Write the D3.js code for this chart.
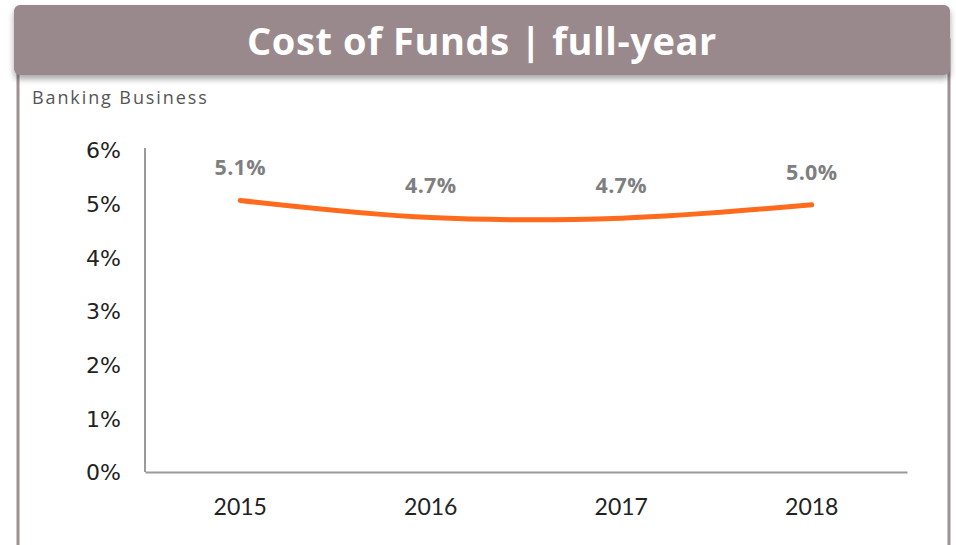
<!DOCTYPE html>
<html>
<head>
<meta charset="utf-8">
<script src="https://cdn.jsdelivr.net/npm/d3@7"></script>
<style>
  body { margin: 0; background: #fff; }
  svg { display: block; font-family: "Open Sans", Lato, sans-serif; }
</style>
</head>
<body>
<svg id="chart" width="956" height="545"></svg>
<script>
// chart data
const years = ['2015', '2016', '2017', '2018']
const costOfFunds = [5.06, 4.74, 4.73, 4.98]
const valueLabels = ['5.1%', '4.7%', '4.7%', '5.0%']
const yTicks = [0, 1, 2, 3, 4, 5, 6]

const svg = d3.select('#chart')

// shadow for the header
const defs = svg.append('defs')
const filter = defs.append('filter').attr('id', 'shadow').attr('x', '-5%').attr('y', '-20%').attr('width', '110%').attr('height', '160%')
filter.append('feDropShadow').attr('dx', 0).attr('dy', 4).attr('stdDeviation', 3).attr('flood-color', '#000').attr('flood-opacity', 0.35)

// content frame
svg.append('rect')
    .attr('x', 18).attr('y', 40).attr('width', 931).attr('height', 520)
    .attr('fill', '#fff').attr('stroke', '#9d9194').attr('stroke-width', 3)

// header
svg.append('rect')
    .attr('x', 14).attr('y', 5).attr('width', 936).attr('height', 70).attr('rx', 6)
    .attr('fill', '#9a898c')
    .attr('filter', 'url(#shadow)')

svg.append('text')
    .attr('x', 482).attr('y', 55)
    .attr('text-anchor', 'middle')
    .attr('fill', '#fff')
    .attr('font-size', 38)
    .attr('font-weight', 'bold')
    .attr('letter-spacing', 0.6)
    .text('Cost of Funds | full-year')

svg.append('text')
    .attr('x', 32).attr('y', 104)
    .attr('fill', '#555')
    .attr('font-size', 18)
    .attr('letter-spacing', 1.9)
    .text('Banking Business')

// scales
const x = d3.scaleBand().domain(years).range([145, 907])
const y = d3.scaleLinear().domain([0, 6]).range([472, 150])

// y axis
const yAxis = svg.append('g')
    .attr('transform', 'translate(145,0)')
    .call(d3.axisLeft(y).tickValues(yTicks).tickFormat(d => d + '%').tickSize(0).tickPadding(24))
yAxis.select('.domain').attr('stroke', '#9a9a9a').attr('stroke-width', 2).attr('d', `M0,${y(6) - 2}V${y(0)}`)
yAxis.selectAll('text').attr('font-size', 22).attr('fill', '#222').attr('font-family', '"DejaVu Sans", sans-serif')
    .attr('dy', '0.36em')

// x axis
const xAxis = svg.append('g')
    .attr('transform', `translate(0,${y(0)})`)
    .call(d3.axisBottom(x).tickSize(0).tickPadding(27))
xAxis.select('.domain').attr('stroke', '#9a9a9a').attr('stroke-width', 2)
xAxis.selectAll('text').attr('font-size', 23).attr('fill', '#222').attr('font-family', 'Lato, sans-serif')

// line
const pts = years.map((yr, i) => ({ yr, v: costOfFunds[i], label: valueLabels[i] }))
const line = d3.line()
    .x(d => x(d.yr) + x.bandwidth() / 2)
    .y(d => y(d.v))
    .curve(d3.curveCatmullRom.alpha(0.5))

svg.append('path')
    .datum(pts)
    .attr('d', line)
    .attr('fill', 'none')
    .attr('stroke', '#ff6a1c')
    .attr('stroke-width', 5)
    .attr('stroke-linecap', 'round')

// value labels
svg.selectAll('.vlabel')
    .data(pts)
    .enter()
    .append('text')
    .attr('class', 'vlabel')
    .attr('x', d => x(d.yr) + x.bandwidth() / 2)
    .attr('y', d => y(d.v) - 25)
    .attr('text-anchor', 'middle')
    .attr('fill', '#7f7f7f')
    .attr('font-size', 21.5)
    .attr('font-weight', 'bold')
    .attr('letter-spacing', 0.3)
    .text(d => d.label)
</script>
</body>
</html>
